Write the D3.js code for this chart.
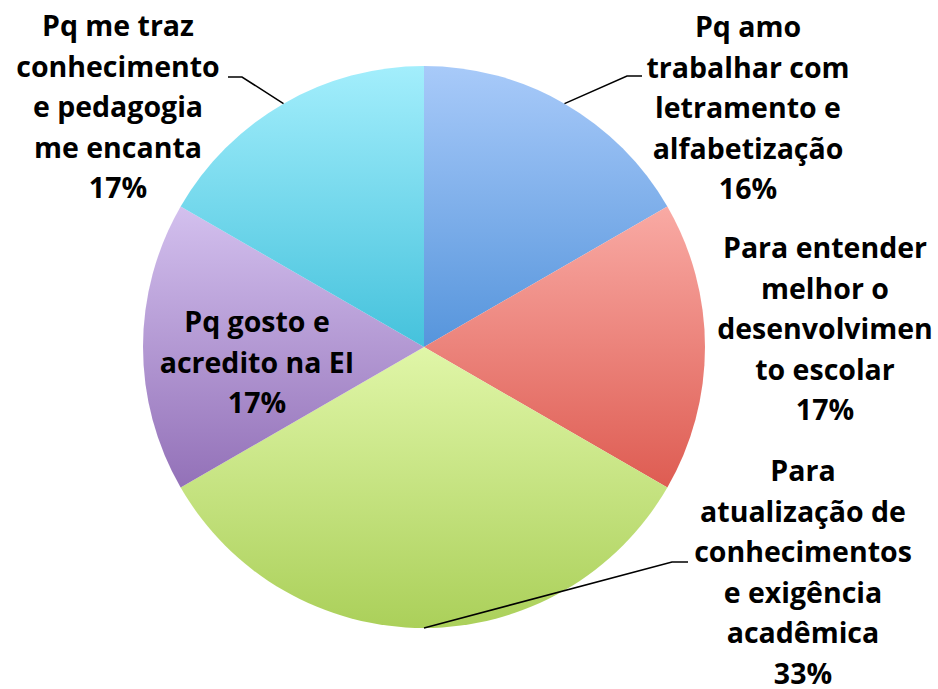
<!DOCTYPE html>
<html>
<head>
<meta charset="utf-8">
<script src="https://cdn.jsdelivr.net/npm/d3@7/dist/d3.min.js"></script>
<style>
  body { margin: 0; background: #fff; }
  text { font-family: "Open Sans", "DejaVu Sans", sans-serif; font-weight: 700; fill: #000; }
</style>
</head>
<body>
<svg id="chart" width="938" height="689"></svg>
<script>
// categories (line breaks as in the picture) and answers count
const categories = [
  "Pq amo\ntrabalhar com\nletramento e\nalfabetização",
  "Para entender\nmelhor o\ndesenvolvimen\nto escolar",
  "Para\natualização de\nconhecimentos\ne exigência\nacadêmica",
  "Pq gosto e\nacredito na EI",
  "Pq me traz\nconhecimento\ne pedagogia\nme encanta"
];
const values = [1, 1, 2, 1, 1];
const pctLabels = ["16%", "17%", "33%", "17%", "17%"];

// gradient top / bottom colours per slice
const topColors = ["#a8caf9", "#f9aaa4", "#e0f6a8", "#d3c0ee", "#a3eefc"];
const bottomColors = ["#5695dc", "#de5c52", "#abd05a", "#9371b8", "#45c2dc"];

// label layout: centre x, first baseline, leader line (null = inside)
const labelPos = [
  {x: 748, y: 37, leader: [[627, 76], [642, 76]]},
  {x: 825, y: 258, leader: null},
  {x: 803, y: 481, leader: [[672, 562], [688, 562]]},
  {x: 257, y: 332, leader: null},
  {x: 118, y: 36, leader: [[242, 77], [228, 77]]}
];

const cx = 424, cy = 347, radius = 281;
const lineH = 40.5;

const svg = d3.select("#chart");
const defs = svg.append("defs");

topColors.forEach(function(c, i) {
  let g = defs.append("linearGradient")
    .attr("id", "grad" + i)
    .attr("x1", 0).attr("y1", 0).attr("x2", 0).attr("y2", 1);
  g.append("stop").attr("offset", "0%").attr("stop-color", c);
  g.append("stop").attr("offset", "100%").attr("stop-color", bottomColors[i]);
});

const pie = d3.pie().sort(null).value(d => d);
const arcs = pie(values);
const arc = d3.arc().innerRadius(0).outerRadius(radius);

const g = svg.append("g").attr("transform", "translate(" + cx + "," + cy + ")");

g.selectAll("path.slice")
  .data(arcs)
  .enter().append("path")
  .attr("class", "slice")
  .attr("d", arc)
  .attr("fill", (d, i) => "url(#grad" + i + ")");

// leader lines from the middle of the slice edge
arcs.forEach(function(d, i) {
  let lp = labelPos[i];
  if (!lp.leader) return;
  let a = (d.startAngle + d.endAngle) / 2;
  let p0 = [cx + radius * Math.sin(a), cy - radius * Math.cos(a)];
  svg.append("path")
    .attr("d", d3.line()([p0].concat(lp.leader)))
    .attr("fill", "none")
    .attr("stroke", "#000")
    .attr("stroke-width", 1.5);
});

// labels
categories.forEach(function(c, i) {
  let lines = c.split("\n").concat([pctLabels[i]]);
  let t = svg.append("text")
    .attr("text-anchor", "middle")
    .attr("font-size", 28.5);
  lines.forEach(function(l, j) {
    t.append("tspan")
      .attr("x", labelPos[i].x)
      .attr("y", labelPos[i].y + j * lineH)
      .text(l);
  });
});
</script>
</body>
</html>
